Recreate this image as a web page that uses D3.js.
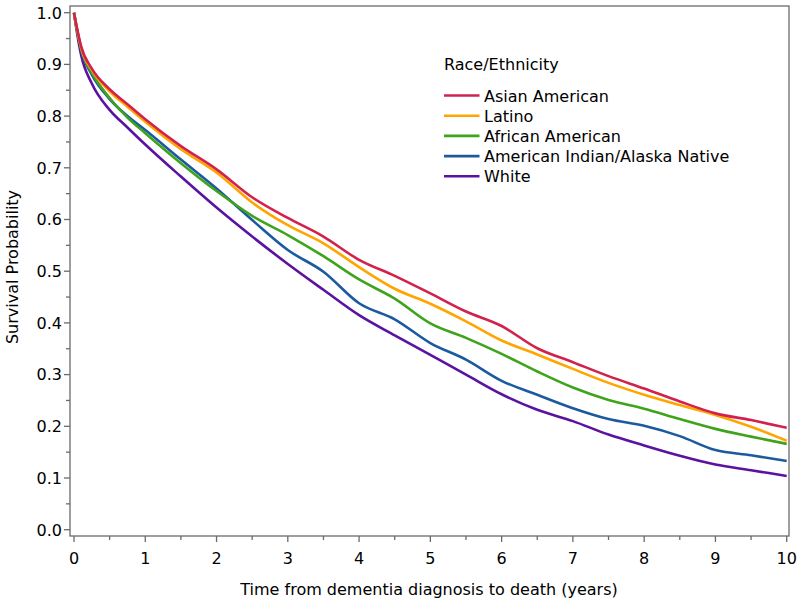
<!DOCTYPE html>
<html>
<head>
<meta charset="utf-8">
<script src="https://cdn.jsdelivr.net/npm/d3@7"></script>
<style>
  html, body { margin: 0; padding: 0; background: #fff; }
  svg { display: block; }
  text { font-family: "DejaVu Sans", Verdana, sans-serif; fill: #000; }
</style>
</head>
<body>
<svg id="chart" width="800" height="605"></svg>
<script>
// ---- data ----
const times = [0, 0.05, 0.1, 0.25, 0.5, 0.75, 1, 1.5, 2, 2.5, 3, 3.5, 4, 4.5, 5, 5.5, 6, 6.5, 7, 7.5, 8, 8.5, 9, 9.5, 10];
const asianAmerican   = [1, 0.965, 0.935, 0.892, 0.852, 0.823, 0.794, 0.742, 0.697, 0.643, 0.603, 0.567, 0.522, 0.491, 0.457, 0.422, 0.394, 0.351, 0.324, 0.297, 0.273, 0.248, 0.225, 0.212, 0.197];
const latino          = [1, 0.963, 0.932, 0.889, 0.848, 0.818, 0.789, 0.736, 0.691, 0.633, 0.589, 0.554, 0.508, 0.466, 0.437, 0.403, 0.366, 0.339, 0.311, 0.284, 0.261, 0.241, 0.222, 0.199, 0.172];
const africanAmerican = [1, 0.962, 0.930, 0.884, 0.835, 0.797, 0.767, 0.709, 0.655, 0.607, 0.570, 0.529, 0.484, 0.447, 0.399, 0.371, 0.340, 0.306, 0.275, 0.251, 0.234, 0.214, 0.195, 0.180, 0.166];
const aian            = [1, 0.961, 0.928, 0.880, 0.833, 0.800, 0.773, 0.716, 0.660, 0.599, 0.541, 0.499, 0.438, 0.407, 0.361, 0.329, 0.288, 0.261, 0.235, 0.214, 0.201, 0.181, 0.154, 0.144, 0.133];
const white           = [1, 0.955, 0.918, 0.863, 0.812, 0.778, 0.745, 0.683, 0.623, 0.567, 0.514, 0.464, 0.415, 0.376, 0.338, 0.300, 0.262, 0.232, 0.210, 0.184, 0.163, 0.143, 0.126, 0.115, 0.104];

const seriesNames = ["Asian American", "Latino", "African American", "American Indian/Alaska Native", "White"];
const seriesValues = [asianAmerican, latino, africanAmerican, aian, white];
const seriesColors = ["#d2224c", "#ffa500", "#3ea41c", "#1c5aa0", "#5a12a0"];
const xTicks = [0, 1, 2, 3, 4, 5, 6, 7, 8, 9, 10];
const yTicks = [0.0, 0.1, 0.2, 0.3, 0.4, 0.5, 0.6, 0.7, 0.8, 0.9, 1.0];
const legendTitle = "Race/Ethnicity";
const xTitle = "Time from dementia diagnosis to death (years)";
const yTitle = "Survival Probability";

// ---- layout ----
const svg = d3.select("#chart");
const frame = { left: 70, right: 789, top: 6, bottom: 536 };
const x = d3.scaleLinear().domain([0, 10]).range([74, 786.7]);
const y = d3.scaleLinear().domain([0, 1]).range([529.7, 12.7]);
const axisColor = "#6a6a6a";

// frame
svg.append("rect")
  .attr("x", frame.left).attr("y", frame.top)
  .attr("width", frame.right - frame.left).attr("height", frame.bottom - frame.top)
  .attr("fill", "none").attr("stroke", axisColor).attr("stroke-width", 1.3);

// x axis
const xMinor = d3.range(0.5, 10, 1);
const gx = svg.append("g");
gx.selectAll("line.major").data(xTicks).join("line")
  .attr("x1", d => x(d)).attr("x2", d => x(d))
  .attr("y1", frame.bottom).attr("y2", frame.bottom + 6)
  .attr("stroke", axisColor).attr("stroke-width", 1.3);
gx.selectAll("line.minor").data(xMinor).join("line")
  .attr("x1", d => x(d)).attr("x2", d => x(d))
  .attr("y1", frame.bottom).attr("y2", frame.bottom + 4)
  .attr("stroke", axisColor).attr("stroke-width", 1.3);
gx.selectAll("text").data(xTicks).join("text")
  .attr("x", d => x(d)).attr("y", 563.5)
  .attr("text-anchor", "middle").attr("font-size", 16)
  .text(d => d3.format("d")(d));

// y axis
const yMinor = d3.range(0.05, 1, 0.1);
const gy = svg.append("g");
gy.selectAll("line.major").data(yTicks).join("line")
  .attr("x1", frame.left - 6).attr("x2", frame.left)
  .attr("y1", d => y(d)).attr("y2", d => y(d))
  .attr("stroke", axisColor).attr("stroke-width", 1.3);
gy.selectAll("line.minor").data(yMinor).join("line")
  .attr("x1", frame.left - 4).attr("x2", frame.left)
  .attr("y1", d => y(d)).attr("y2", d => y(d))
  .attr("stroke", axisColor).attr("stroke-width", 1.3);
gy.selectAll("text").data(yTicks).join("text")
  .attr("x", 62).attr("y", d => y(d) + 5.8)
  .attr("text-anchor", "end").attr("font-size", 16)
  .text(d => d3.format(".1f")(d));

// titles
svg.append("text").attr("x", 429).attr("y", 595)
  .attr("text-anchor", "middle").attr("font-size", 16).text(xTitle);
svg.append("text")
  .attr("transform", `translate(18, 267) rotate(-90)`)
  .attr("text-anchor", "middle").attr("font-size", 16).text(yTitle);

// curves
const line = d3.line()
  .x((d, i) => x(times[i]))
  .y(d => y(d))
  .curve(d3.curveMonotoneX);
svg.append("g").selectAll("path")
  .data(seriesValues.map((v, i) => ({ v, i })).reverse())
  .join("path")
  .attr("d", d => line(d.v))
  .attr("fill", "none")
  .attr("stroke", d => seriesColors[d.i])
  .attr("stroke-width", 2.6)
  .attr("stroke-linejoin", "round");

// legend
const lg = svg.append("g");
lg.append("text").attr("x", 444).attr("y", 70).attr("font-size", 16).text(legendTitle);
seriesNames.forEach((name, i) => {
  const ly = 95.5 + i * 20.2;
  lg.append("line").attr("x1", 444).attr("x2", 479.5).attr("y1", ly).attr("y2", ly)
    .attr("stroke", seriesColors[i]).attr("stroke-width", 2.6);
  lg.append("text").attr("x", 484).attr("y", ly + 6).attr("font-size", 16).text(name);
});
</script>
</body>
</html>
